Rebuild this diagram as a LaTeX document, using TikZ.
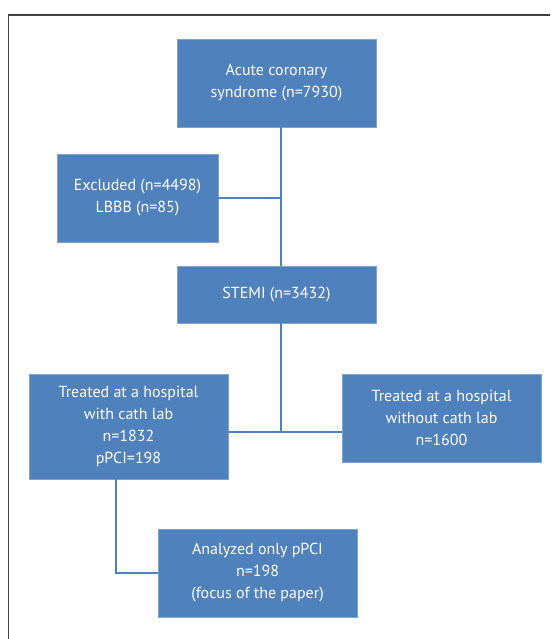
\documentclass[tikz,border=0pt]{standalone}
\usepackage{fontspec}
\setmainfont{PT Sans}
\definecolor{boxblue}{HTML}{4F81BD}
\definecolor{edgeblue}{HTML}{7FA3D0}

\begin{document}
\begin{tikzpicture}[x=1pt,y=-1pt,
boxnode/.style={rectangle, draw=edgeblue, fill=boxblue, line width=0.6pt, text=white, align=center, font=\fontsize{16}{22}\selectfont, inner sep=0pt},
link/.style={draw=boxblue, line width=2.2pt},
]
    \useasboundingbox (0,0) rectangle (550,639);
    \draw [line width=1.2pt, black!75] (8.8,639) -- (8.8,15) -- (550,15);

    \node [boxnode, minimum width=199pt, minimum height=88pt] (acs) at (276.5, 83) {Acute coronary\\syndrome (n=7930)};
    \node [boxnode, minimum width=161pt, minimum height=88pt] (excl) at (137.5,198) {Excluded (n=4498)\\LBBB (n=85)};
    \node [boxnode, minimum width=199pt, minimum height=57pt] (stemi) at (276.5,294.5) {STEMI (n=3432)};

    \node [boxnode, minimum width=199pt, minimum height=105pt] (cath) at (128.5,426.5) {Treated at a hospital\\with cath lab\\n=1832\\pPCI=198};
    \node [boxnode, minimum width=199pt, minimum height=88pt] (nocath) at (441.5,418) {Treated at a hospital\\without cath lab\\n=1600};

    \node [boxnode, minimum width=199pt, minimum height=88pt] (ppci) at (257.5,573) {Analyzed only pPCI\\n=198\\(focus of the paper)};

    \coordinate (spine) at (280.8,0);
    \coordinate (split) at (280.8,432);
    \coordinate (drop) at (115.7,0);

    \draw [link] (acs.south -| spine) -- (stemi.north -| spine);
    \draw [link] (excl.east) -- (excl.east -| spine);
    \draw [link] (stemi.south -| spine) -- (split);
    \draw [link] (cath.east |- split) -- (nocath.west |- split);
    \draw [link] (cath.south -| drop) |- (ppci.west);
\end{tikzpicture}
\end{document}
